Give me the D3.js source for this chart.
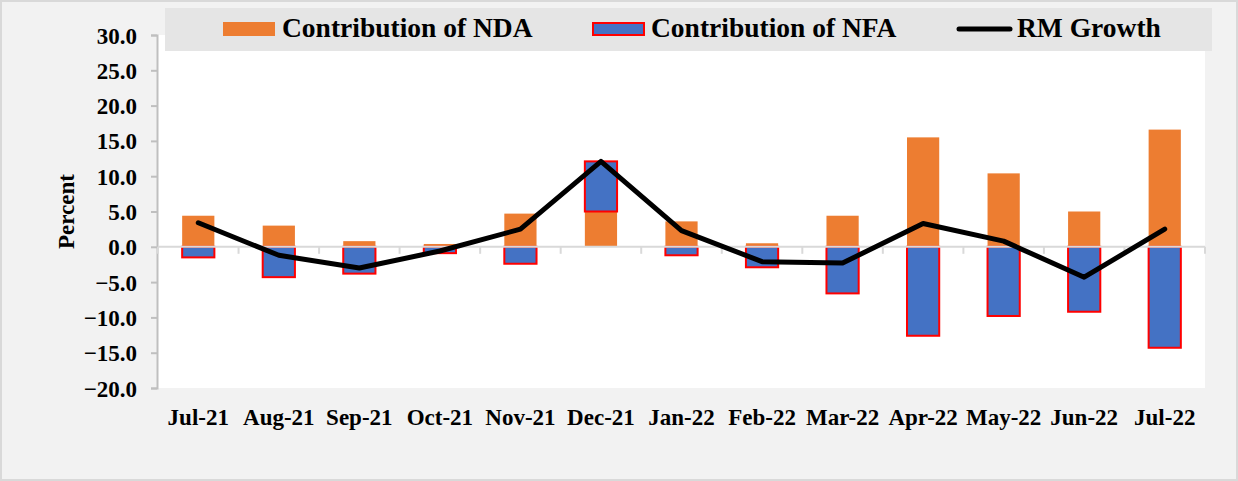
<!DOCTYPE html>
<html>
<head>
<meta charset="utf-8">
<script src="https://cdn.jsdelivr.net/npm/d3@7"></script>
<style>
  body { margin: 0; background: #fff; }
  text { font-family: "Liberation Serif", "Times New Roman", serif; font-weight: bold; fill: #000; }
</style>
</head>
<body>
<div id="chart"></div>
<script>
// data
var months = ["Jul-21", "Aug-21", "Sep-21", "Oct-21", "Nov-21", "Dec-21", "Jan-22",
              "Feb-22", "Mar-22", "Apr-22", "May-22", "Jun-22", "Jul-22"];
var ndaValues = [4.4, 3.0, 0.8, 0.4, 4.7, 5.0, 3.6, 0.5, 4.4, 15.5, 10.4, 5.0, 16.6];
var nfaValues = [-1.5, -4.3, -3.8, -0.9, -2.4, 7.1, -1.2, -2.9, -6.6, -12.6, -9.8, -9.2, -14.3];
var rmGrowth = [3.4, -1.2, -3.0, -0.6, 2.5, 12.1, 2.3, -2.1, -2.3, 3.3, 0.8, -4.3, 2.5];
var yTicks = [30, 25, 20, 15, 10, 5, 0, -5, -10, -15, -20];
var legendLabels = ["Contribution of NDA", "Contribution of NFA", "RM Growth"];

var width = 1238, height = 481;
var plot = {left: 158, right: 1205, top: 35, bottom: 388};

var svg = d3.select("#chart").append("svg")
    .attr("width", width)
    .attr("height", height);

// chart background
svg.append("rect")
    .attr("x", 1).attr("y", 1)
    .attr("width", width - 2).attr("height", height - 2)
    .attr("fill", "#f2f2f2")
    .attr("stroke", "#d9d9d9")
    .attr("stroke-width", 2);

svg.append("rect")
    .attr("x", plot.left).attr("y", plot.top)
    .attr("width", plot.right - plot.left).attr("height", plot.bottom - plot.top)
    .attr("fill", "#fff");

var x = d3.scaleBand()
    .domain(months)
    .range([plot.left, plot.right])
    .paddingInner(0.6)
    .paddingOuter(0.3);

var y = d3.scaleLinear()
    .domain([-20, 30])
    .range([plot.bottom, plot.top]);

var rows = months.map(function (m, i) {
    return {month: m, nda: ndaValues[i], nfa: nfaValues[i]};
});

var series = d3.stack()
    .keys(["nda", "nfa"])
    .offset(d3.stackOffsetDiverging)(rows);

var colors = {nda: "#ed7d31", nfa: "#4472c4"};

// y axis
var yAxis = svg.append("g")
    .attr("transform", "translate(" + (plot.left - 1) + ",0)")
    .call(d3.axisLeft(y).tickValues(yTicks).tickSize(6).tickPadding(14)
        .tickFormat(d3.format(".1f")));
yAxis.select(".domain").attr("stroke", "#bfbfbf").attr("stroke-width", 2);
yAxis.selectAll(".tick line").attr("stroke", "#bfbfbf").attr("stroke-width", 2);
yAxis.selectAll(".tick text")
    .style("font-size", "23px")
    .attr("dy", "0.35em");

svg.append("text")
    .attr("transform", "translate(74," + y(5) + ") rotate(-90)")
    .style("text-anchor", "middle")
    .style("font-size", "23px")
    .text("Percent");

// bars
svg.selectAll(".series")
    .data(series)
    .enter().append("g")
    .attr("class", "series")
    .selectAll("rect")
    .data(function (s) {
        return s.map(function (d) { d.key = s.key; return d; });
    })
    .enter().append("rect")
    .attr("x", function (d) { return x(d.data.month); })
    .attr("width", x.bandwidth())
    .attr("y", function (d) { return y(d[1]); })
    .attr("height", function (d) { return y(d[0]) - y(d[1]); })
    .attr("fill", function (d) { return colors[d.key]; })
    .attr("stroke", function (d) { return d.key === "nfa" ? "#ff0000" : "none"; })
    .attr("stroke-width", 2);

// zero axis with category ticks
var xAxis = svg.append("g")
    .attr("transform", "translate(0," + y(0) + ")");
xAxis.append("line")
    .attr("x1", plot.left).attr("x2", plot.right)
    .attr("stroke", "#d9d9d9").attr("stroke-width", 2);
var bounds = months.map(function (m) { return x(m) - x.step() * x.paddingInner() / 2; });
bounds.push(plot.right);
xAxis.selectAll(".cat-tick")
    .data(bounds)
    .enter().append("line")
    .attr("class", "cat-tick")
    .attr("x1", function (d) { return d; }).attr("x2", function (d) { return d; })
    .attr("y1", 0).attr("y2", 7)
    .attr("stroke", "#d9d9d9").attr("stroke-width", 2);

// month labels
svg.selectAll(".month-label")
    .data(months)
    .enter().append("text")
    .attr("class", "month-label")
    .attr("x", function (d) { return x(d) + x.bandwidth() / 2; })
    .attr("y", 425)
    .style("text-anchor", "middle")
    .style("font-size", "23px")
    .text(function (d) { return d; });

// RM growth line
var line = d3.line()
    .x(function (d, i) { return x(months[i]) + x.bandwidth() / 2; })
    .y(function (d) { return y(d); });

svg.append("path")
    .datum(rmGrowth)
    .attr("d", line)
    .attr("fill", "none")
    .attr("stroke", "#000")
    .attr("stroke-width", 5)
    .attr("stroke-linecap", "round")
    .attr("stroke-linejoin", "round");

// legend
var legend = svg.append("g");
legend.append("rect")
    .attr("x", 165).attr("y", 8)
    .attr("width", 1047).attr("height", 43)
    .attr("fill", "#e5e5e5");

var legendX = [223, 592, 957];
var items = legend.selectAll(".legend-item")
    .data(legendLabels)
    .enter().append("g")
    .attr("class", "legend-item")
    .attr("transform", function (d, i) { return "translate(" + legendX[i] + ",0)"; });

items.filter(function (d, i) { return i < 2; })
    .append("rect")
    .attr("x", function (d, i) { return i === 1 ? 1 : 0; })
    .attr("y", function (d, i) { return i === 1 ? 23 : 22; })
    .attr("width", function (d, i) { return i === 1 ? 51 : 52; })
    .attr("height", function (d, i) { return i === 1 ? 12 : 14; })
    .attr("fill", function (d, i) { return i === 0 ? colors.nda : colors.nfa; })
    .attr("stroke", function (d, i) { return i === 1 ? "#ff0000" : "none"; })
    .attr("stroke-width", 2);

items.filter(function (d, i) { return i === 2; })
    .append("line")
    .attr("x1", 2).attr("x2", 53)
    .attr("y1", 29).attr("y2", 29)
    .attr("stroke", "#000").attr("stroke-width", 5)
    .attr("stroke-linecap", "round");

items.append("text")
    .attr("x", function (d, i) { return i === 2 ? 60 : 59; })
    .attr("y", 37)
    .style("font-size", "27.5px")
    .text(function (d) { return d; });
</script>
</body>
</html>
